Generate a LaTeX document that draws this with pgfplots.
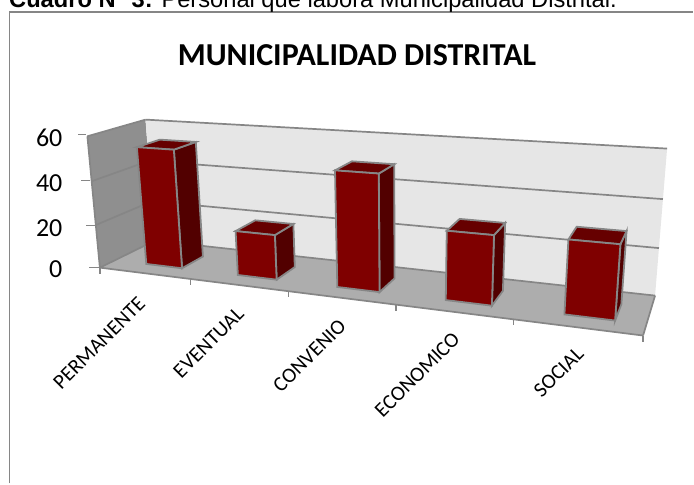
\documentclass[border=0pt]{standalone}
\usepackage{pgfplots}
\pgfplotsset{compat=1.18}
\usepackage{pgfplotstable}
\usepackage{fontspec}
\setmainfont{Carlito}
\newfontfamily\arialf{Liberation Sans}
\definecolor{wallL}{HTML}{8F8F8F}
\definecolor{wallB}{HTML}{E6E6E6}
\definecolor{flr}{HTML}{ADADAD}
\definecolor{edge}{HTML}{868686}
\definecolor{barF}{HTML}{7F0000}
\definecolor{barS}{HTML}{520000}
\definecolor{barT}{HTML}{660000}
% bar values (category index, value)
\pgfplotstableread{
i v
0 54
1 20
2 50
3 29
4 30
}\bardata
\pgfmathdeclarefunction{WW}{3}{\pgfmathparse{1-0.2004*#1+0.0906*#2-0.04*#3}}
\pgfmathdeclarefunction{PX}{3}{\pgfmathparse{(100+414.9*#1+69.04*#2-16*#3)/WW(#1,#2,#3)}}
\pgfmathdeclarefunction{PY}{3}{\pgfmathparse{(268+0.67*#1-5.17*#2-137*#3)/WW(#1,#2,#3)}}
% face: #1 style; #2..#5 = corners as u,d,t
\newcommand{\face}[5]{%
  \addplot[#1] coordinates {
    ({PX(#2)},{PY(#2)}) ({PX(#3)},{PY(#3)}) ({PX(#4)},{PY(#4)}) ({PX(#5)},{PY(#5)})} -- cycle;}
\newcommand{\gridl}[1]{\addplot[edge,line width=1.7pt] coordinates {({PX(0,1,#1)},{PY(0,1,#1)}) ({PX(1,1,#1)},{PY(1,1,#1)})};
  \addplot[edge,line width=1.7pt] coordinates {({PX(0,0,#1)},{PY(0,0,#1)}) ({PX(0,1,#1)},{PY(0,1,#1)})};}
\newcommand{\drawbar}[2]{% category index, value
  \pgfmathsetmacro{\ua}{0.072+0.2*#1}\pgfmathsetmacro{\ub}{\ua+0.08}\pgfmathsetmacro{\ttop}{#2/60}
  \edef\temp{\noexpand\face{fill=barS,draw=edge,line width=1.8pt}{\ub,0.26,0}{\ub,0.67,0}{\ub,0.67,\ttop}{\ub,0.26,\ttop}
  \noexpand\face{fill=barT,draw=edge,line width=1.8pt}{\ua,0.26,\ttop}{\ub,0.26,\ttop}{\ub,0.67,\ttop}{\ua,0.67,\ttop}
  \noexpand\face{fill=barF,draw=edge,line width=1.8pt}{\ua,0.26,0}{\ub,0.26,0}{\ub,0.26,\ttop}{\ua,0.26,\ttop}}\temp}
\begin{document}
\begin{tikzpicture}[x=1pt,y=1pt]
\begin{axis}[scale only axis,width=694pt,height=484pt,xmin=0,xmax=694,ymin=0,ymax=484,y dir=reverse,
  hide axis,clip=false]
\path (axis cs:0,0) rectangle (axis cs:694,484);
% frame
\addplot[color=edge,line width=1.9pt] coordinates {(9.5,484) (9.5,12) (694,12)};
% walls
\face{fill=wallL,draw=none}{0,0,0}{0,1,0}{0,1,1}{0,0,1}
\face{fill=wallB,draw=none}{0,1,0}{1,1,0}{1,1,1}{0,1,1}
\face{fill=flr,draw=none}{0,0,0}{1,0,0}{1,1,0}{0,1,0}
\gridl{0}\gridl{0.3333}\gridl{0.6667}\gridl{1}
\addplot[edge,line width=1.7pt] coordinates {({PX(0,0,0)},{PY(0,0,0)}) ({PX(0,0,1)},{PY(0,0,1)})};
\addplot[edge,line width=1.7pt] coordinates {({PX(1,0,0)},{PY(1,0,0)}) ({PX(1,1,0)},{PY(1,1,0)})};
\addplot[edge,line width=1.7pt] coordinates {({PX(0,0,0)},{PY(0,0,0)}) ({PX(1,0,0)},{PY(1,0,0)})};
% ticks
\addplot[edge,line width=1.3pt] coordinates {(100,268) (89,268)};
\addplot[edge,line width=1.3pt] coordinates {(95.5,226) (86,226)};
\addplot[edge,line width=1.3pt] coordinates {(90.5,181) (81,181)};
\addplot[edge,line width=1.3pt] coordinates {(86,135) (78,135)};
\pgfplotsforeachungrouped \k in {0,0.2,0.4,0.6,0.8,1}{
  \edef\temp{\noexpand\addplot[edge,line width=1.3pt] coordinates {({PX(\k,0,0)},{PY(\k,0,0)}) ({PX(\k,0,0)},{PY(\k,0,0)+6})};}\temp}
% bars
\pgfplotstablegetrowsof{\bardata}\pgfmathtruncatemacro{\nr}{\pgfplotsretval-1}
\pgfplotsforeachungrouped \r in {0,...,\nr}{
  \pgfplotstablegetelem{\r}{i}\of\bardata\let\ci\pgfplotsretval
  \pgfplotstablegetelem{\r}{v}\of\bardata\let\cv\pgfplotsretval
  \drawbar{\ci}{\cv}}
% texts
\node[anchor=base west,inner sep=0pt,font=\arialf\fontsize{23.7}{24}\selectfont,overlay] at (axis cs:9,7.2) {\textbf{Cuadro N° 3:} Personal que labora Municipalidad Distrital.};
\node[font=\bfseries\fontsize{32}{32}\selectfont] at (axis cs:357.5,55) {MUNICIPALIDAD DISTRITAL};
\node[anchor=east,font=\fontsize{26}{26}\selectfont] at (axis cs:66,138) {60};
\node[anchor=east,font=\fontsize{26}{26}\selectfont] at (axis cs:66,183) {40};
\node[anchor=east,font=\fontsize{26}{26}\selectfont] at (axis cs:66,228) {20};
\node[anchor=east,font=\fontsize{26}{26}\selectfont] at (axis cs:66,270) {0};
\node[anchor=north east,rotate=45,inner sep=0pt,font=\fontsize{21}{21}\selectfont] at (axis cs:137,296) {PERMANENTE};
\node[anchor=north east,rotate=45,inner sep=0pt,font=\fontsize{21}{21}\selectfont] at (axis cs:236,306) {EVENTUAL};
\node[anchor=north east,rotate=45,inner sep=0pt,font=\fontsize{21}{21}\selectfont] at (axis cs:338,318) {CONVENIO};
\node[anchor=north east,rotate=45,inner sep=0pt,font=\fontsize{21}{21}\selectfont] at (axis cs:452,331) {ECONOMICO};
\node[anchor=north east,rotate=45,inner sep=0pt,font=\fontsize{21}{21}\selectfont] at (axis cs:576,346) {SOCIAL};
\end{axis}
\end{tikzpicture}
\end{document}
